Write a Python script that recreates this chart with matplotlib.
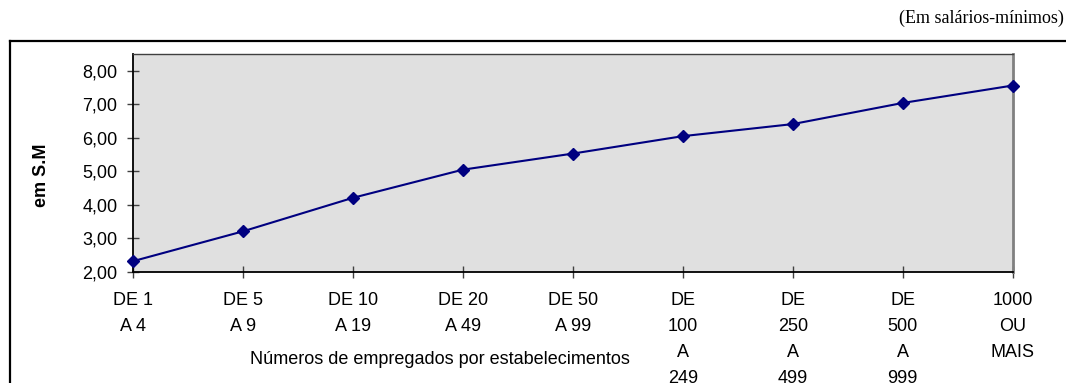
import matplotlib.pyplot as plt
from matplotlib.lines import Line2D

# faixas de tamanho do estabelecimento
categorias = ['DE 1\nA 4', 'DE 5\nA 9', 'DE 10\nA 19', 'DE 20\nA 49', 'DE 50\nA 99',
              'DE\n100\nA\n249', 'DE\n250\nA\n499', 'DE\n500\nA\n999', '1000\nOU\nMAIS']
salario_medio = [2.32, 3.21, 4.21, 5.05, 5.53, 6.05, 6.41, 7.04, 7.56]
yticks = [2, 3, 4, 5, 6, 7, 8]
ytick_labels = ['2,00', '3,00', '4,00', '5,00', '6,00', '7,00', '8,00']

plt.rcParams['font.family'] = ['Liberation Sans', 'DejaVu Sans']

W, H = 1066, 383
fig = plt.figure(figsize=(W / 100, H / 100), dpi=100)
ax = fig.add_axes([132.7 / W, 1 - 272 / H, (1012.7 - 132.7) / W, (272 - 54) / H])
ax.set_facecolor('#e0e0e0')

x = list(range(len(categorias)))
ax.plot(x, salario_medio, color='#000080', lw=1.5, marker='D', ms=6.5,
        clip_on=False, zorder=5)

ax.set_xlim(0, len(categorias) - 1)
ax.set_ylim(2, 8.5)
ax.set_yticks(yticks)
ax.set_yticklabels(ytick_labels, fontsize=13)
ax.set_xticks(x)
ax.set_xticklabels(categorias, fontsize=13, linespacing=1.7, va='top')

ax.tick_params(axis='x', direction='inout', length=8, width=1, color='#404040', pad=10.5)
ax.tick_params(axis='y', direction='inout', length=8, width=1, color='#404040', pad=7)

ax.spines['left'].set_color('black')
ax.spines['bottom'].set_color('black')
ax.spines['left'].set_linewidth(1.3)
ax.spines['bottom'].set_linewidth(1.3)
ax.spines['top'].set_color('#404040')
ax.spines['top'].set_linewidth(1.0)
ax.spines['right'].set_color('#808080')
ax.spines['right'].set_linewidth(2.0)

fig.text(41 / W, 1 - 175.5 / H, 'em S.M', fontsize=13, fontweight='bold',
         rotation=90, ha='center', va='center')
fig.text(440 / W, 1 - 360 / H, 'Números de empregados por estabelecimentos',
         fontsize=13, ha='center', va='center')

fig.text(1064 / W, 1 - 18 / H, '(Em salários-mínimos)', fontsize=13,
         family='Liberation Serif', ha='right', va='center')

# moldura externa (topo e lado esquerdo)
fig.add_artist(Line2D([10 / W, 1.0], [1 - 41 / H, 1 - 41 / H], color='black', lw=1.6))
fig.add_artist(Line2D([10 / W, 10 / W], [1 - 41 / H, 0], color='black', lw=1.6))

fig.savefig('out.png', dpi=100)
